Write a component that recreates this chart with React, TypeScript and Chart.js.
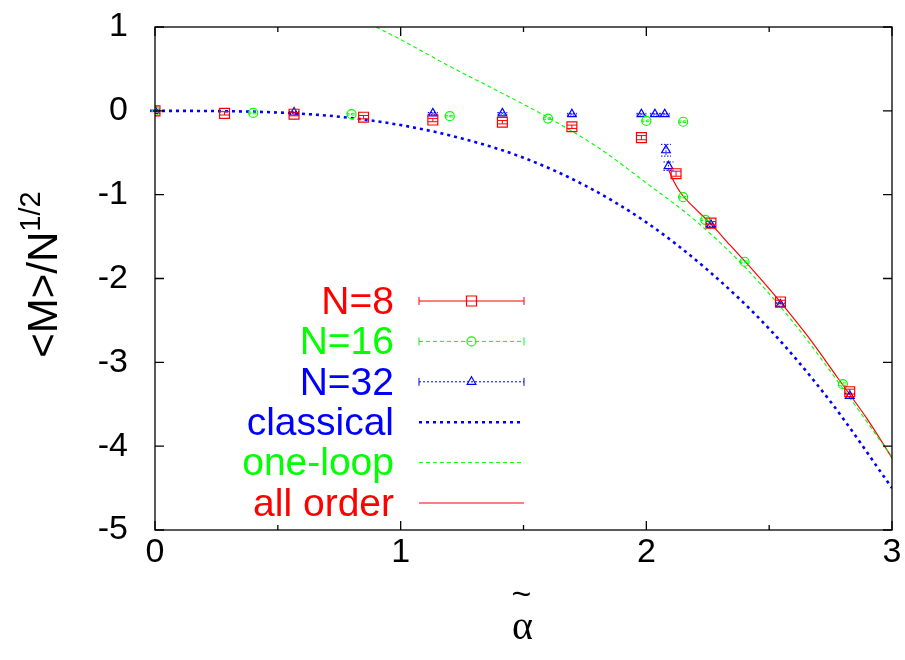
import React, { useEffect, useRef } from 'react';
import { Chart, registerables } from 'chart.js';

Chart.register(...registerables);

const RED = '#ff0000';
const GREEN = '#00ff00';
const BLUE = '#0000ff';
const FONT = "'Liberation Sans', Arial, Helvetica, sans-serif";

// N=8 Monte Carlo data
const n8X = [0, 0.283, 0.566, 0.849, 1.131, 1.414, 1.697, 1.98, 2.121, 2.263, 2.546, 2.828];
const n8Y = [0, -0.03, -0.04, -0.076, -0.11, -0.136, -0.19, -0.32, -0.75, -1.34, -2.28, -3.35];
const n8Err = [0.01, 0.02, 0.02, 0.02, 0.02, 0.02, 0.02, 0.025, 0.03, 0.02, 0.02, 0.03];

// N=16
const n16X = [0, 0.4, 0.8, 1.2, 1.6, 2.0, 2.15, 2.15, 2.24, 2.4, 2.8];
const n16Y = [0, -0.025, -0.04, -0.064, -0.092, -0.12, -0.13, -1.03, -1.3, -1.8, -3.26];
const n16Err = [0.005, 0.01, 0.01, 0.01, 0.01, 0.01, 0.01, 0.01, 0.01, 0.01, 0.015];

// N=32
const n32X = [0, 0.566, 1.131, 1.414, 1.697, 1.98, 2.035, 2.075, 2.08, 2.09, 2.263, 2.546, 2.828];
const n32Y = [0, -0.02, -0.03, -0.03, -0.04, -0.04, -0.04, -0.04, -0.47, -0.66, -1.36, -2.31, -3.4];
const n32Err = [0.005, 0.01, 0.01, 0.01, 0.01, 0.01, 0.01, 0.01, 0.07, 0.05, 0.02, 0.02, 0.03];

// classical curve
const classicalX = [0, 0.25, 0.5, 0.75, 1, 1.25, 1.5, 1.75, 2, 2.25, 2.5, 2.75, 3];
const classicalY = [0, -0.003, -0.02, -0.07, -0.17, -0.33, -0.56, -0.89, -1.33, -1.9, -2.6, -3.47, -4.5];

// one-loop curve
const oneLoopX = [0.9, 1.0, 1.2, 1.4, 1.6, 1.8, 2.0, 2.2, 2.4, 2.6, 2.8, 3.0];
const oneLoopY = [1.0, 0.85, 0.53, 0.23, -0.08, -0.43, -0.86, -1.31, -1.86, -2.53, -3.31, -4.13];

// all order curve
const allOrderX = [2.09, 2.11, 2.14, 2.2, 2.26, 2.34, 2.44, 2.54, 2.66, 2.78, 2.9, 3.0];
const allOrderY = [-0.7, -0.83, -0.98, -1.17, -1.34, -1.6, -1.92, -2.26, -2.7, -3.19, -3.68, -4.14];

const xTickValues = [0, 1, 2, 3];
const yTickValues = [1, 0, -1, -2, -3, -4, -5];
const legendLabels = ['N=8', 'N=16', 'N=32', 'classical', 'one-loop', 'all order'];
const legendColors = [RED, GREEN, BLUE, BLUE, GREEN, RED];

const pts = (xs: number[], ys: number[]) => xs.map((x, i) => ({ x, y: ys[i] }));

const framePlugin = {
  id: 'frameTicks',
  afterDatasetsDraw(chart: any) {
    const { ctx, chartArea: a, scales } = chart;
    const xs = scales.x;
    const ys = scales.y;
    ctx.save();
    ctx.strokeStyle = '#000';
    ctx.lineWidth = 1.3;
    ctx.setLineDash([]);
    ctx.strokeRect(a.left, a.top, a.right - a.left, a.bottom - a.top);
    ctx.beginPath();
    for (let v = xs.min; v <= xs.max + 1e-9; v += 0.5) {
      const px = xs.getPixelForValue(v);
      const len = Math.abs(v - Math.round(v)) < 1e-6 ? 9 : 5;
      ctx.moveTo(px, a.bottom);
      ctx.lineTo(px, a.bottom - len);
      ctx.moveTo(px, a.top);
      ctx.lineTo(px, a.top + len);
    }
    for (const v of yTickValues) {
      const py = ys.getPixelForValue(v);
      ctx.moveTo(a.left, py);
      ctx.lineTo(a.left + 9, py);
      ctx.moveTo(a.right, py);
      ctx.lineTo(a.right - 9, py);
    }
    ctx.stroke();
    ctx.restore();
  },
};

const errorBarPlugin = {
  id: 'errorBars',
  afterDatasetsDraw(chart: any) {
    const { ctx } = chart;
    const ys = chart.scales.y;
    chart.data.datasets.forEach((ds: any, i: number) => {
      if (!ds.errs) return;
      const meta = chart.getDatasetMeta(i);
      ctx.save();
      ctx.strokeStyle = ds.borderColor;
      ctx.lineWidth = 1;
      ctx.setLineDash(ds.errDash || []);
      meta.data.forEach((el: any, j: number) => {
        const v = ds.data[j].y;
        const e = ds.errs[j];
        const top = ys.getPixelForValue(v + e);
        const bot = ys.getPixelForValue(v - e);
        const x = el.x;
        ctx.beginPath();
        ctx.moveTo(x, top);
        ctx.lineTo(x, bot);
        ctx.moveTo(x - 5, top);
        ctx.lineTo(x + 5, top);
        ctx.moveTo(x - 5, bot);
        ctx.lineTo(x + 5, bot);
        ctx.stroke();
      });
      ctx.restore();
    });
  },
};

function drawMarker(ctx: CanvasRenderingContext2D, style: string, x: number, y: number, color: string) {
  ctx.save();
  ctx.setLineDash([]);
  ctx.strokeStyle = color;
  ctx.lineWidth = 1.2;
  ctx.beginPath();
  if (style === 'rect') {
    ctx.rect(x - 5, y - 5, 10, 10);
  } else if (style === 'circle') {
    ctx.arc(x, y, 4.5, 0, Math.PI * 2);
  } else if (style === 'triangle') {
    const r = 5;
    ctx.moveTo(x, y - r);
    ctx.lineTo(x + r * 0.866, y + r / 2);
    ctx.lineTo(x - r * 0.866, y + r / 2);
    ctx.closePath();
  }
  ctx.stroke();
  ctx.restore();
}

const legendPlugin = {
  id: 'customLegend',
  afterDraw(chart: any) {
    const { ctx } = chart;
    const textRight = 394;
    const x0 = 419;
    const x1 = 524;
    const xm = (x0 + x1) / 2;
    const yStart = 301;
    const dy = 40.4;
    const styles = [
      { dash: [], width: 1.2, marker: 'rect', caps: true },
      { dash: [4, 3], width: 1, marker: 'circle', caps: true },
      { dash: [2, 2], width: 1, marker: 'triangle', caps: true },
      { dash: [3, 4], width: 2.5, marker: '', caps: false },
      { dash: [4, 3], width: 1, marker: '', caps: false },
      { dash: [], width: 1.2, marker: '', caps: false },
    ];
    ctx.save();
    ctx.font = `39px ${FONT}`;
    ctx.textAlign = 'right';
    ctx.textBaseline = 'middle';
    legendLabels.forEach((lab, i) => {
      const y = yStart + i * dy;
      const col = legendColors[i];
      ctx.fillStyle = col;
      ctx.fillText(lab, textRight, y + 2);
      const st = styles[i];
      ctx.strokeStyle = col;
      ctx.lineWidth = st.width;
      ctx.setLineDash(st.dash);
      ctx.beginPath();
      ctx.moveTo(x0, y);
      ctx.lineTo(x1, y);
      ctx.stroke();
      if (st.caps) {
        ctx.setLineDash([]);
        ctx.lineWidth = 1;
        ctx.beginPath();
        ctx.moveTo(x0, y - 4);
        ctx.lineTo(x0, y + 4);
        ctx.moveTo(x1, y - 4);
        ctx.lineTo(x1, y + 4);
        ctx.stroke();
      }
      if (st.marker) drawMarker(ctx, st.marker, xm, y, col);
    });
    ctx.restore();
  },
};

const titlePlugin = {
  id: 'axisTitles',
  afterDraw(chart: any) {
    const { ctx, chartArea: a } = chart;
    ctx.save();
    ctx.fillStyle = '#000';
    // y title, rotated
    const main = '<M>/N';
    const sup = '1/2';
    ctx.font = `42px ${FONT}`;
    const wMain = ctx.measureText(main).width;
    ctx.font = `29px ${FONT}`;
    const wSup = ctx.measureText(sup).width;
    const total = wMain + wSup;
    const cy = (a.top + a.bottom) / 2 - 4;
    ctx.translate(57, cy);
    ctx.rotate(-Math.PI / 2);
    ctx.textAlign = 'left';
    ctx.textBaseline = 'alphabetic';
    ctx.font = `42px ${FONT}`;
    ctx.fillText(main, -total / 2, 0);
    ctx.font = `29px ${FONT}`;
    ctx.fillText(sup, -total / 2 + wMain, -17);
    ctx.restore();

    // x title: alpha with tilde
    ctx.save();
    ctx.fillStyle = '#000';
    ctx.textAlign = 'center';
    ctx.textBaseline = 'middle';
    const cx = (a.left + a.right) / 2;
    ctx.font = `40px 'Liberation Serif', 'DejaVu Serif', serif`;
    ctx.fillText('α', cx - 1, 628);
    ctx.font = `34px ${FONT}`;
    ctx.fillText('~', cx - 2, 596);
    ctx.restore();
  },
};

export default function App() {
  const ref = useRef<HTMLCanvasElement | null>(null);
  useEffect(() => {
    document.body.style.margin = '0';
    const canvas = ref.current;
    if (!canvas) return;
    const chart = new Chart(canvas, {
      type: 'scatter',
      data: {
        datasets: [
          {
            label: 'N=8',
            data: pts(n8X, n8Y),
            errs: n8Err,
            errDash: [],
            showLine: false,
            pointStyle: 'rect',
            pointRadius: 7,
            borderColor: RED,
            backgroundColor: 'rgba(0,0,0,0)',
            pointBorderWidth: 1.2,
          } as any,
          {
            label: 'N=16',
            data: pts(n16X, n16Y),
            errs: n16Err,
            errDash: [3, 2],
            showLine: false,
            pointStyle: 'circle',
            pointRadius: 4.5,
            borderColor: GREEN,
            backgroundColor: 'rgba(0,0,0,0)',
            pointBorderWidth: 1.2,
          } as any,
          {
            label: 'N=32',
            data: pts(n32X, n32Y),
            errs: n32Err,
            errDash: [1.5, 1.5],
            showLine: false,
            pointStyle: 'triangle',
            pointRadius: 5,
            borderColor: BLUE,
            backgroundColor: 'rgba(0,0,0,0)',
            pointBorderWidth: 1.2,
          } as any,
          {
            label: 'classical',
            data: pts(classicalX, classicalY),
            showLine: true,
            pointRadius: 0,
            borderColor: BLUE,
            borderWidth: 2.6,
            borderDash: [3, 4],
            cubicInterpolationMode: 'monotone',
            fill: false,
          } as any,
          {
            label: 'one-loop',
            data: pts(oneLoopX, oneLoopY),
            showLine: true,
            pointRadius: 0,
            borderColor: GREEN,
            borderWidth: 1.1,
            borderDash: [4, 3],
            cubicInterpolationMode: 'monotone',
            fill: false,
          } as any,
          {
            label: 'all order',
            data: pts(allOrderX, allOrderY),
            showLine: true,
            pointRadius: 0,
            borderColor: RED,
            borderWidth: 1.2,
            cubicInterpolationMode: 'monotone',
            fill: false,
          } as any,
        ],
      },
      options: {
        responsive: false,
        animation: false,
        devicePixelRatio: 1,
        layout: { padding: { top: 27, right: 13, left: 0, bottom: 0 } },
        plugins: { legend: { display: false }, tooltip: { enabled: false } },
        scales: {
          x: {
            type: 'linear',
            min: 0,
            max: 3,
            afterBuildTicks: (s: any) => {
              s.ticks = xTickValues.map((v) => ({ value: v }));
            },
            ticks: { font: { family: FONT, size: 34 }, color: '#000', padding: -6, maxRotation: 0 },
            grid: { display: false },
            border: { display: false },
            afterFit: (s: any) => {
              s.height = 130;
              s.paddingLeft = 0;
              s.paddingRight = 0;
            },
          },
          y: {
            type: 'linear',
            min: -5,
            max: 1,
            afterBuildTicks: (s: any) => {
              s.ticks = yTickValues.map((v) => ({ value: v }));
            },
            ticks: { font: { family: FONT, size: 34 }, color: '#000', padding: 19 },
            grid: { display: false },
            border: { display: false },
            afterFit: (s: any) => {
              s.width = 155;
              s.paddingTop = 0;
              s.paddingBottom = 0;
            },
          },
        },
      } as any,
      plugins: [errorBarPlugin, framePlugin, legendPlugin, titlePlugin],
    });
    return () => chart.destroy();
  }, []);
  return (
    <div style={{ width: 905, height: 660 }}>
      <canvas ref={ref} width={905} height={660} style={{ display: 'block' }} />
    </div>
  );
}
